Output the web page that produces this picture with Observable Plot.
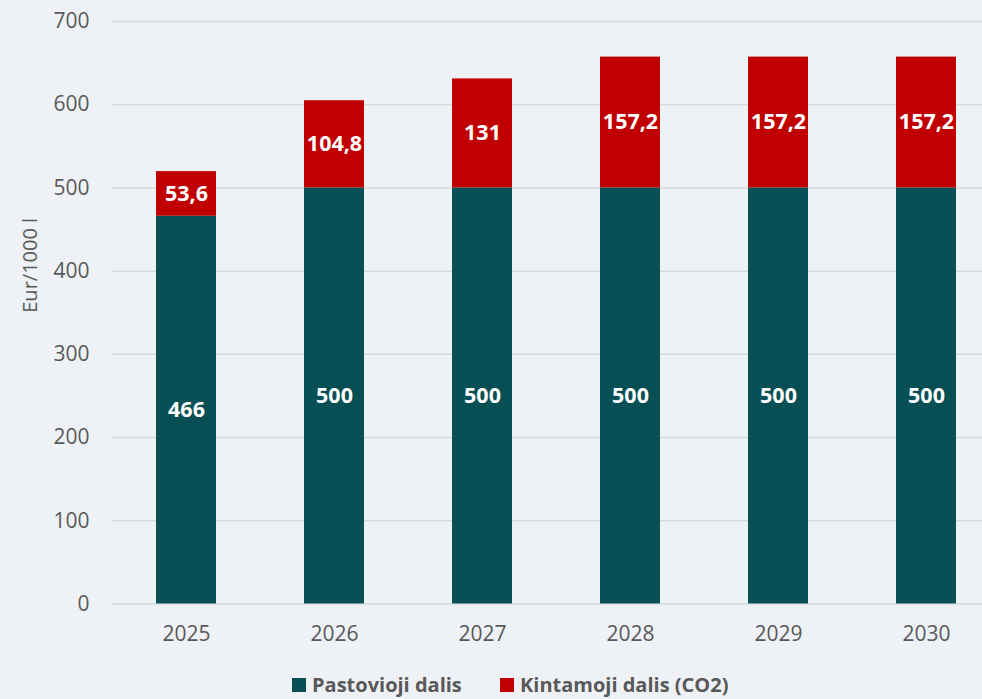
<!DOCTYPE html>
<html>
<head>
<meta charset="utf-8">
<script src="https://cdn.jsdelivr.net/npm/d3@7"></script>
<script src="https://cdn.jsdelivr.net/npm/@observablehq/plot@0.6"></script>
<style>
  html, body { margin: 0; padding: 0; background: #eef2f6; }
  body { width: 982px; height: 699px; overflow: hidden; font-family: "Open Sans", sans-serif; }
  #legend { height: 39px; position: relative; font-weight: bold; font-size: 20px; color: #595959; }
  .item { position: absolute; top: 14px; display: flex; align-items: center; line-height: 22px; }
  .sw { width: 14px; height: 14px; margin-right: 6px; }
</style>
</head>
<body>
<div id="chart"></div>
<div id="legend"></div>
<script>
const years = ["2025", "2026", "2027", "2028", "2029", "2030"];
const fixedPart = [466, 500, 500, 500, 500, 500];
const variablePart = [53.6, 104.8, 131, 157.2, 157.2, 157.2];
const seriesNames = ["Pastovioji dalis", "Kintamoji dalis (CO2)"];
const seriesColors = ["#084f55", "#c00000"];
const yTicks = [0, 100, 200, 300, 400, 500, 600, 700];

const fmt = v => String(v).replace(".", ",");
const rows = [];
years.forEach((yr, i) => {
  rows.push({year: yr, series: seriesNames[0], lo: 0, hi: fixedPart[i], value: fixedPart[i]});
  rows.push({year: yr, series: seriesNames[1], lo: fixedPart[i], hi: fixedPart[i] + variablePart[i], value: variablePart[i]});
});

const chart = Plot.plot({
  width: 982,
  height: 660,
  marginTop: 21,
  marginBottom: 56.5,
  marginLeft: 112,
  marginRight: 0,
  style: {background: "#eef2f6", fontFamily: "Open Sans, sans-serif", fontSize: "21px", color: "#595959"},
  x: {domain: years, range: [110, 1001], paddingInner: 0.596, paddingOuter: 0.298, label: null, tickSize: 0, tickPadding: 22},
  y: {domain: [0, 700], ticks: yTicks, label: null, tickSize: 0, tickPadding: 23},
  color: {domain: seriesNames, range: seriesColors},
  marks: [
    Plot.gridY(yTicks, {stroke: "#d9d9d9", strokeOpacity: 1, strokeWidth: 1.5}),
    Plot.axisY({ticks: yTicks, tickSize: 0, tickPadding: 23, label: null, fontSize: 21, fill: "#595959"}),
    Plot.axisX({tickSize: 0, tickPadding: 22, label: null, fontSize: 21, fill: "#595959"}),
    Plot.barY(rows, {x: "year", y1: "lo", y2: "hi", fill: "series"}),
    Plot.text(rows, {x: "year", y: d => (d.lo + d.hi) / 2, text: d => fmt(d.value), fill: "white", fontWeight: "bold", fontSize: 21.5}),
    Plot.text(["Eur/1000 l"], {frameAnchor: "left", dx: -82, rotate: -90, text: d => d, fill: "#595959", fontSize: 20})
  ]
});
document.getElementById("chart").appendChild(chart);

const legend = document.getElementById("legend");
const pos = [292, 500];
seriesNames.forEach((name, i) => {
  const it = document.createElement("div");
  it.className = "item";
  it.style.left = pos[i] + "px";
  const sw = document.createElement("span");
  sw.className = "sw";
  sw.style.background = seriesColors[i];
  const tx = document.createElement("span");
  tx.textContent = name;
  it.appendChild(sw); it.appendChild(tx);
  legend.appendChild(it);
});
</script>
</body>
</html>
